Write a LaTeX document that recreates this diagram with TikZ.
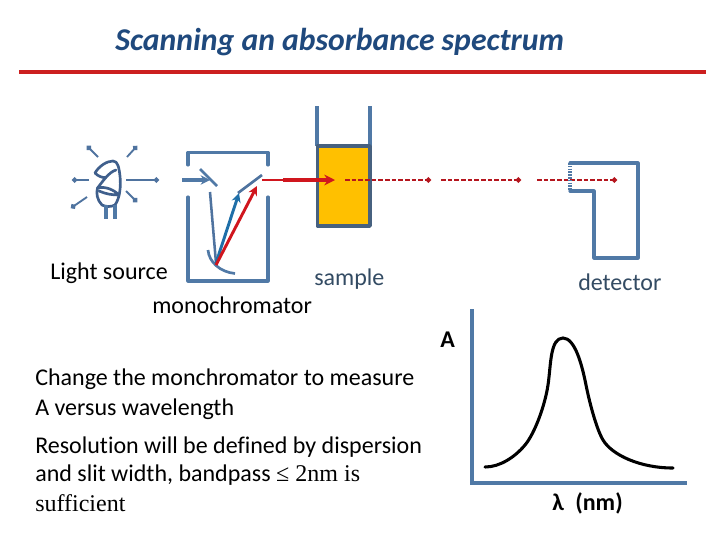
\documentclass[tikz,border=0pt]{standalone}
\usepackage{fontspec}
\setmainfont{Carlito}[Ligatures=CommonOff]
\newfontfamily\serifpart{Liberation Serif}
\usetikzlibrary{arrows.meta}
\definecolor{steel}{HTML}{5079A6}
\definecolor{bulbc}{HTML}{3F5F8C}
\definecolor{rayc}{HTML}{4F739F}
\definecolor{bluea}{HTML}{1F6FA8}
\definecolor{reda}{HTML}{D0161E}
\definecolor{dashr}{HTML}{B5161E}
\definecolor{rulec}{HTML}{CC1F1F}
\definecolor{gold}{HTML}{FFC000}
\definecolor{cuv}{HTML}{47617F}
\definecolor{lab}{HTML}{334B63}
\definecolor{ttl}{HTML}{1F497D}
\tikzset{
 ray/.style={rayc,line width=1.4pt,-{Circle[length=4pt]}},
 bulbline/.style={bulbc,line width=2pt,line join=round,line cap=round},
 wall/.style={steel,line width=2.3pt,line cap=round,line join=round},
 txt/.style={inner sep=0pt,anchor=base west,font=\fontsize{18pt}{22pt}\selectfont},
 boldtxt/.style={inner sep=0pt,anchor=base west,font=\fontsize{18pt}{22pt}\selectfont\bfseries},
 dashray/.style={dashr,line width=1.4pt,dash pattern=on 3.6pt off 1.4pt,-{Circle[length=4pt,fill=reda]}}
}
\begin{document}
\begin{tikzpicture}[x=0.75pt,y=-0.75pt]
\useasboundingbox (0,0) rectangle (720,540);
% title
\node[txt,font=\fontsize{23.8pt}{28pt}\selectfont\bfseries\itshape,text=ttl] (title) at (115,50) {Scanning an absorbance spectrum};
\draw[rulec,line width=3.2pt] (19,72) -- (706,72);
% bulb rays
\draw[ray] (89,180) -- (72,180);
\draw[ray] (126,180) -- (159,180);
\draw[ray] (98,157) -- (87,146);
\draw[ray] (127,157) -- (137,146);
\draw[ray] (87,197) -- (71,208);
\draw[ray] (126,191) -- (137,202);
% bulb
\draw[bulbline] (95,173) .. controls (99,166) and (107,161) .. (113,161)
  .. controls (118,161) and (119,168) .. (120,176) .. controls (121,186) and (120,198) .. (115,205)
  .. controls (111,207) and (106,207) .. (102,205) .. controls (97,200) and (96,193) .. (97.5,188);
\draw[bulbline] (95,173) .. controls (98,176) and (102,178) .. (106,177.5) (97.5,188) .. controls (103,181) and (109,172) .. (116,170);
\draw[bulbline] (97.5,188) .. controls (106,186) and (114,190) .. (119,195) (99,191) .. controls (106,194) and (112,195) .. (119,195);
\draw[steel,line width=2.3pt] (106,205) -- (106,219) (115,205) -- (115,219);
% monochromator
\draw[wall] (188,165) -- (188,152.5) -- (268,152.5) -- (268,165);
\draw[wall] (188,197) -- (188,281) -- (268,281) -- (268,197);
\draw[steel,line width=2.3pt,-{Stealth[length=7pt,width=7pt]}] (182,180) -- (210,180);
\draw[steel,line width=2pt] (200,169) -- (217,186);
\draw[rayc,line width=1.9pt] (210,192) -- (216,263);
\draw[steel,line width=2pt] (208,250) .. controls (209,262) and (220,272) .. (235,273.5);
\draw[rayc,line width=2pt] (238,193) -- (262,175);
\draw[bluea,line width=2.2pt,-{Stealth[length=7pt,width=7pt]}] (216,263) -- (239,193);
\draw[reda,line width=2.2pt,-{Stealth[length=7pt,width=7pt]}] (216,265) -- (257,186);
% sample
\draw[wall,line cap=butt] (317,106) -- (317,146) (370,106) -- (370,146);
\fill[gold] (318,147) rectangle (369,225);
\draw[cuv,line width=2.6pt,line join=round] (317.5,146) rectangle (370,226);
% beam
\draw[reda,line width=1.8pt] (262,180) -- (285,180);
\draw[reda,line width=2.6pt,-{Stealth[length=8pt,width=8pt]}] (283,180) -- (335,180);
\draw[dashray] (345,180) -- (431,180);
\draw[dashray] (441,180) -- (521,180);
\draw[dashray] (537,180) -- (617,180);
% detector
\draw[wall] (570,163) -- (638,163) -- (638,258) -- (594,258) -- (594,191) -- (570,191);
\draw[steel,line width=2.3pt,dash pattern=on 1.2pt off 0.9pt] (570,163) -- (570,191);
% labels
\node[txt] (ls) at (50,279) {Light source};
\node[txt,text=lab] (sam) at (314,285) {sample};
\node[txt,text=lab] (det) at (578,290) {detector};
\node[txt] (mono) at (152,313) {monochromator};
\node[txt] at (35,385) {Change the monchromator to measure};
\node[txt] at (35,415) {A versus wavelength};
\node[txt] at (35,453) {Resolution will be defined by dispersion};
\node[txt] at (35,481) {and slit width, bandpass {\serifpart ≤ 2nm is}};
\node[txt] at (35,511) {\serifpart sufficient};
% graph
\draw[steel,line width=2.8pt,line join=miter] (472,309) -- (472,483) -- (687,483);
\draw[black,line width=2.3pt,line cap=round] (485,467) .. controls (500,467) and (515,457) .. (525,445)
  .. controls (535,433) and (545,405) .. (548,385) .. controls (551,365) and (550,338) .. (563,338)
  .. controls (575,338) and (582,365) .. (586,385) .. controls (590,405) and (597,430) .. (603,440)
  .. controls (612,455) and (640,468) .. (673,468);
\node[boldtxt] (A) at (440,347) {A};
\node[boldtxt] (lam) at (552,510) {λ\hspace{0.25em} (nm)};
\end{tikzpicture}
\end{document}
